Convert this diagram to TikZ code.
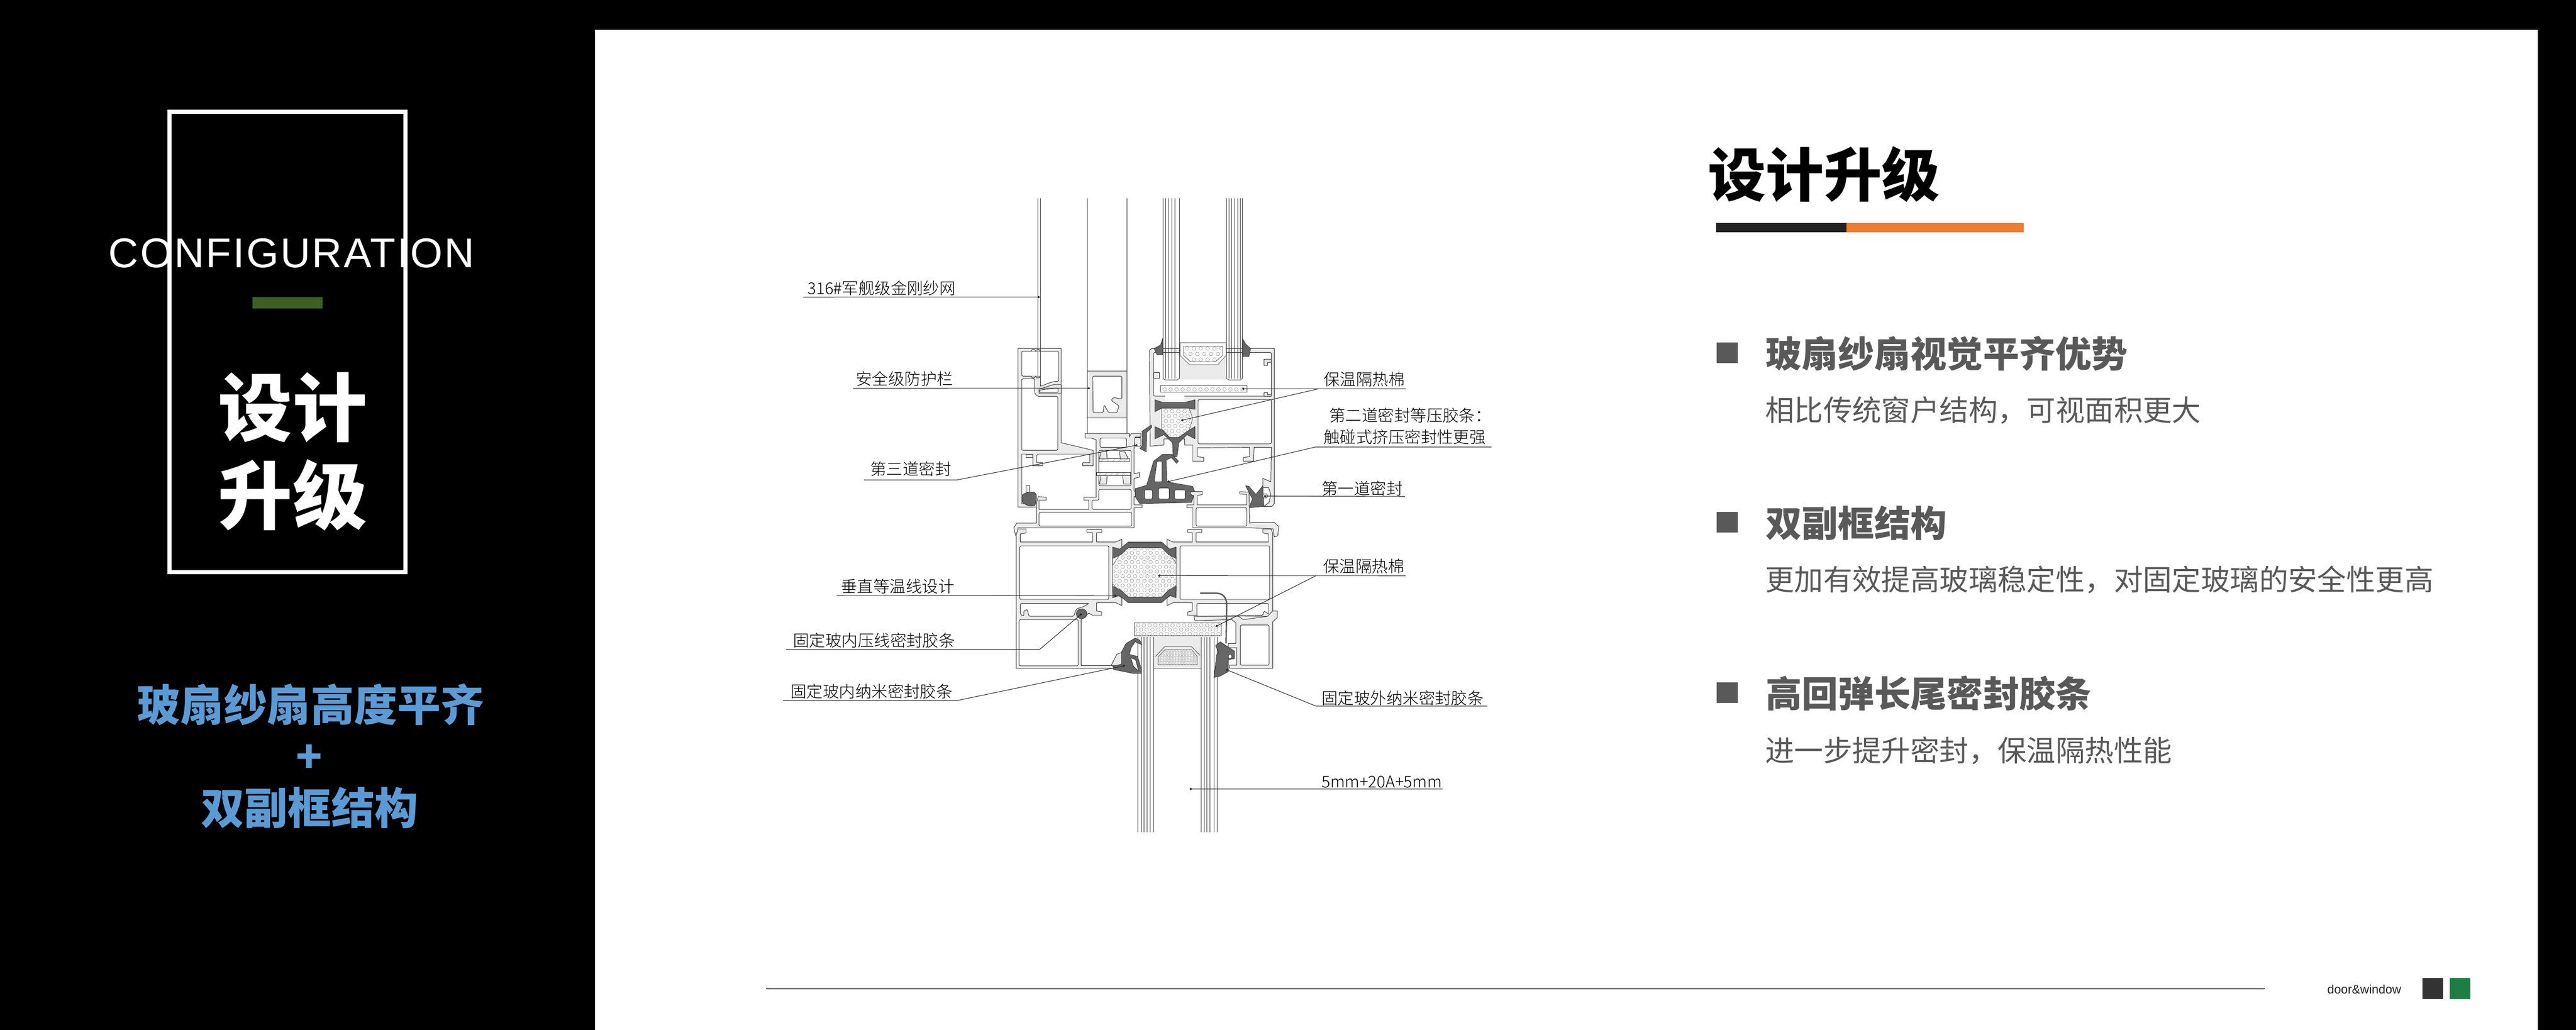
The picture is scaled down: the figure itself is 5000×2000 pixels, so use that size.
\documentclass[tikz,border=0pt]{standalone}
\usepackage{fontspec}
\usepackage{tikz}
\usetikzlibrary{arrows.meta}
\setmainfont{Liberation Sans}
\newfontfamily\cjkreg{Noto Sans CJK SC}
\newfontfamily\cjklight{Noto Sans CJK SC Light}
\newfontfamily\cjkblack{Noto Sans CJK SC Black}
\newcommand{\foamholes}[6]{% x0,x1,y0,y1,pitch,radius
  \pgfmathsetmacro{\xnext}{#1+#5}\pgfmathsetmacro{\ynext}{#3+#5*.8}
  \foreach \yy [count=\rowno] in {#3,\ynext,...,#4}{
    \pgfmathsetmacro{\xoff}{mod(\rowno,2)*#5/2}
    \foreach \xx in {#1,\xnext,...,#2}
      \draw[holeline] (\xx+\xoff,\yy) circle (#6);}}
\tikzset{
  alu/.style={draw=black!80,fill=black!8,line width=.55pt,line join=round},
  cavity/.style={draw=black!80,fill=white,line width=.55pt,rounded corners=1.5pt},
  gasket/.style={draw=black!80,fill=black!60,line width=.45pt,line join=round},
  foamfill/.style={draw=black!70,fill=black!2,line width=.4pt},
  holeline/.style={draw=black!50,line width=.25pt},
  pane/.style={draw=black!80,line width=.45pt},
  leader/.style={draw=black!85,line width=.6pt,-{Circle[length=2.5pt]}},
  lbl/.style={inner sep=0pt,anchor=west,text=black,font=\cjklight\fontsize{17.9}{20}\selectfont},
  headline/.style={inner sep=0pt,anchor=west,text=black!65,font=\cjkblack\fontsize{40}{46}\selectfont},
  subline/.style={inner sep=0pt,anchor=west,text=black!65,font=\cjkreg\fontsize{32.1}{38}\selectfont},
  bluetext/.style={inner sep=0pt,text=bluetitle,font=\cjkblack\fontsize{47.9}{56}\selectfont},
  bigtext/.style={inner sep=0pt,text=white,font=\cjkblack\fontsize{82}{96}\selectfont},
}
\definecolor{bluetitle}{HTML}{5B9BD5}
\definecolor{barorange}{HTML}{ED7D31}
\definecolor{bardark}{HTML}{222222}
\definecolor{bargreen}{HTML}{3F5F22}
\definecolor{tagdark}{HTML}{333333}
\definecolor{taggreen}{HTML}{1E7D45}
\definecolor{bulletgrey}{HTML}{595959}
\begin{document}
\begin{tikzpicture}[x=.02cm,y=-.02cm]
\useasboundingbox (0,0) rectangle (5000,2000);
\fill[black] (0,0) rectangle (5000,2000);
\fill[white] (1155,58) rectangle (4926,2000);

% left column
\draw[white,line width=4pt] (329,217) rectangle (787,1111);
\node (config) [inner sep=0pt,text=white,font=\addfontfeature{LetterSpace=4}\fontsize{46}{52}\selectfont] at (566,492) {CONFIGURATION};
\fill[bargreen] (490,577) rectangle (626,599);
\node (big1) [bigtext] at (568,791) {设计};
\node (big2) [bigtext] at (568,961) {升级};
\node (blue1) [bluetext] at (603,1368) {玻扇纱扇高度平齐};
\node (blue2) [bluetext] at (600,1473) {+};
\node (blue3) [bluetext] at (601,1568) {双副框结构};

% right column
\node (title) [inner sep=0pt,text=black,font=\cjkblack\fontsize{64}{72}\selectfont] at (3540,338) {设计升级};
\fill[bardark] (3331,433) rectangle (3584,451);
\fill[barorange] (3584,433) rectangle (3928,451);
\fill[bulletgrey] (3332,665) rectangle (3373,705);
\node (head1) [headline] at (3427,686) {玻扇纱扇视觉平齐优势};
\node (sub1) [subline] at (3426,797) {相比传统窗户结构，可视面积更大};
\fill[bulletgrey] (3332,994) rectangle (3373,1034);
\node (head2) [headline] at (3427,1016) {双副框结构};
\node (sub2) [subline] at (3426,1126) {更加有效提高玻璃稳定性，对固定玻璃的安全性更高};
\fill[bulletgrey] (3332,1325) rectangle (3373,1365);
\node (head3) [headline] at (3427,1346) {高回弹长尾密封胶条};
\node (sub3) [subline] at (3426,1458) {进一步提升密封，保温隔热性能};

% footer
\draw[black!75,line width=1.2pt] (1487,1920) -- (4396,1920);
\node (door) [inner sep=0pt,text=black!85,font=\fontsize{13.6}{16}\selectfont] at (4589,1921) {door\&window};
\fill[tagdark] (4702,1899) rectangle (4742,1940);
\fill[taggreen] (4755,1899) rectangle (4795,1940);

% upper half of the section
\begin{scope}[shift={(1900,380)},x=.00893cm,y=-.00893cm]
% outer frame
\draw[alu] (170,665)--(358,665)--(358,1075)--(497,1108)--(497,1175)--(452,1175)--(452,1162)--(482,1162)--(482,1125)--(255,1125)--(250,1135)--(250,1160)--(278,1162)--(278,1175)--(235,1175)--(235,1125)--(186,1125)--(186,1340)--(250,1340)--(250,1355)--(170,1355)--cycle;
\draw[cavity] (186,677)--(347,677)--(347,808)--(330,808)--(305,815)--(268,830)--(268,785)--(186,785)--cycle;
\draw[cavity] (186,797)--(243,797)--(243,860)--(255,873)--(343,873)--(343,1108)--(186,1108)--cycle;
\draw[alu] (262,842)--(325,822)--(358,822)--(358,860)--(262,860)--cycle;
\draw[cavity] (264,846)--(345,836)--(345,856)--(264,856)--cycle;
\foreach \bx in {228,248}{
  \draw[alu] (\bx,677) arc (180:360:9);
  \draw[alu] (\bx,785) arc (180:0:9);}
\draw[alu] (205,1260)--(220,1260)--(220,1290)--(205,1290)--cycle;
\draw[alu] (205,1125)--(233,1125)--(233,1140)--(205,1140)--cycle;
\draw[gasket,rounded corners=2pt] (188,1300)--(215,1290)--(245,1290)--(252,1310)--(245,1350)--(215,1350)--(188,1335)--cycle;
\draw[pane] (256,12)--(256,790) (268,12)--(268,830);

% insect sash
\draw[pane] (472,12)--(472,1035) (645,12)--(645,1035);
\draw[alu] (472,762)--(645,762)--(645,968)--(472,968)--cycle;
\draw[cavity] (495,785)--(622,785)--(622,885)--(585,878)--(575,890)--(610,915)--(600,945)--(565,945)--(545,910)--(540,945)--(497,945)--cycle;

% sliding sash foot
\draw[alu] (462,1035)--(655,1035)--(655,1050)--(662,1035)--(705,1035)--(705,1050)--(680,1050)--(675,1100)--(675,1210)--(698,1205)--(698,1225)--(675,1230)--(675,1285)--(698,1295)--(690,1305)--(675,1310)--(675,1345)--(710,1345)--(710,1358)--(675,1358)--(675,1445)--(170,1445)--(170,1480)--(160,1480)--(152,1445)--(165,1425)--(250,1425)--(250,1340)--(258,1310)--(292,1312)--(292,1325)--(262,1325)--(262,1365)--(478,1365)--(478,1325)--(457,1325)--(457,1312)--(510,1312)--(510,1062)--(490,1055)--(462,1055)--cycle;
\draw[cavity] (527,1055)--(642,1055)--(642,1095)--(527,1095)--cycle;
\draw[cavity] (522,1108)--(662,1108)--(662,1262)--(522,1262)--cycle;
\draw[alu] (524,1145)--(655,1145)--(655,1158)--(524,1158)--cycle;
\foreach \hx in {530,555,...,640} \draw[holeline] (\hx,1158)--(\hx+12,1146);
\draw[alu] (512,1205)--(660,1205)--(660,1218)--(512,1218)--cycle;
\foreach \hx in {520,545,...,640} \draw[holeline] (\hx,1218)--(\hx+12,1206);
\draw[alu] (530,1115)--(555,1112)--(558,1145)--(525,1145)--cycle;
\draw[alu] (612,1112)--(635,1115)--(650,1145)--(615,1145)--cycle;
\draw[alu] (530,1218)--(558,1218)--(555,1255)--(525,1255)--cycle;
\draw[alu] (625,1218)--(660,1218)--(660,1255)--(630,1255)--cycle;
\draw[cavity] (522,1278)--(662,1278)--(662,1365)--(492,1365)--(492,1325)--(522,1325)--cycle;
\draw[cavity] (262,1378)--(665,1378)--(665,1438)--(262,1438)--cycle;

% window sash
\draw[alu] (742,672)--(752,665)--(1285,665)--(1285,1340)--(1275,1352)--(1240,1352)--(1262,1335)--(1270,1300)--(1260,1270)--(1235,1270)--(1235,1230)--(1270,1245)--(1272,1095)--(1197,1095)--(1195,1155)--(1150,1155)--(1150,1140)--(1178,1135)--(1178,1095)--(950,1097)--(950,1135)--(978,1140)--(978,1155)--(930,1155)--(930,1085)--(895,1085)--(895,1058)--(805,1058)--(805,1085)--(745,1090)--cycle;
\draw[cavity] (760,682)--(1272,682)--(1272,872)--(760,872)--cycle;
\draw[cavity] (953,887)--(1272,887)--(1272,1080)--(953,1080)--cycle;
\draw[alu] (1240,712)--(1272,712)--(1272,725)--(1255,725)--(1255,738)--(1240,738)--cycle;
\draw[alu] (1240,858)--(1255,858)--(1255,866)--(1272,866)--(1272,872)--(1240,872)--cycle;
\draw[alu] (760,770)--(785,770)--(785,795)--(760,795)--cycle;
\fill[white] (808,860) rectangle (895,892);
% glass and spacer
\fill[black!8] (872,695) rectangle (1076,800);
\foreach \gx in {800,813,826,840,853,872,1076,1088,1100,1112,1125,1137,1146}
  \draw[pane] (\gx,12)--(\gx,795);
\draw[pane] (800,795)--(810,802)--(862,802)--(872,795) (1076,795)--(1088,802)--(1137,802)--(1146,795);
\draw[foamfill,fill=white] (875,640)--(1075,640)--(1075,695)--(1040,735)--(915,735)--(875,695)--cycle;
\begin{scope}
  \path[clip,preaction={foamfill}] (890,655)--(1060,655)--(1060,695)--(1030,722)--(920,722)--(890,695)--cycle;
  \foamholes{890}{1060}{665}{725}{30}{8}
\end{scope}
\begin{scope}
  \path[clip,preaction={foamfill}] (790,825) rectangle (1167,855);
  \foamholes{795}{1165}{843}{843}{26}{8}
\end{scope}
\draw[gasket] (800,620)--(800,692)--(775,692)--(762,665)--(790,650)--cycle;
\draw[gasket] (1146,620)--(1146,700)--(1175,700)--(1182,665)--(1160,645)--cycle;
% thermal break
\begin{scope}
  \path[clip,preaction={foamfill}] (795,925)--(915,925)--(930,970)--(915,1020)--(870,1052)--(830,1052)--(795,1020)--cycle;
  \foamholes{800}{920}{938}{1050}{27}{8}
\end{scope}
\draw[gasket] (766,888)--(800,900)--(895,900)--(940,888)--(940,930)--(915,925)--(795,925)--(766,940)--cycle;
\draw[gasket] (766,1005)--(800,1020)--(830,1052)--(870,1052)--(915,1020)--(940,1005)--(940,1058)--(905,1040)--(870,1075)--(862,1135)--(845,1135)--(842,1075)--(805,1040)--(766,1058)--cycle;
% sliding seals
\draw[gasket] (680,1275)--(730,1260)--(760,1155)--(800,1125)--(840,1125)--(868,1155)--(860,1165)--(838,1140)--(815,1150)--(818,1245)--(930,1265)--(940,1290)--(925,1335)--(700,1340)--(680,1310)--cycle;
\draw[cavity,rounded corners=1pt] (775,1155)--(797,1155)--(797,1245)--(762,1245)--cycle;
\draw[cavity] (720,1280)--(755,1280)--(755,1320)--(720,1320)--cycle;
\draw[cavity] (782,1272)--(828,1272)--(828,1320)--(782,1320)--cycle;
\draw[cavity] (850,1280)--(898,1280)--(898,1320)--(850,1320)--cycle;
\draw[gasket] (710,1025)--(750,998)--(752,1008)--(730,1030)--(728,1115)--(700,1100)--(712,1085)--cycle;
\draw[alu,rounded corners=1pt] (678,1052)--(705,1052)--(705,1090)--(678,1090)--cycle;
\draw[gasket] (1160,1262)--(1175,1265)--(1205,1300)--(1235,1262)--(1240,1352)--(1175,1358)--(1190,1320)--cycle;
\draw[cavity] (1235,1298)--(1255,1298)--(1255,1315)--(1235,1315)--cycle;
% lower sash rail
\draw[alu] (930,1445)--(930,1358)--(905,1358)--(905,1345)--(935,1345)--(935,1305)--(920,1300)--(920,1288)--(972,1288)--(972,1300)--(950,1305)--(950,1345)--(1165,1345)--(1165,1300)--(1135,1298)--(1135,1288)--(1175,1290)--(1178,1425)--(1190,1422)--(1285,1422)--(1305,1440)--(1300,1480)--(1285,1485)--(1280,1450)--(1180,1445)--cycle;
\draw[cavity] (945,1358)--(1165,1358)--(1165,1438)--(945,1438)--cycle;
% leader ends
\coordinate (tipMesh) at (265,441);
\coordinate (tipRail) at (483,838);
\coordinate (tipThird) at (690,1085);
\coordinate (tipFoamA) at (1145,840);
\coordinate (tipFoamB) at (880,978);
\coordinate (tipSecond) at (820,1245);
\coordinate (tipFirst) at (1240,1307);
\end{scope}

% lower half of the section
\begin{scope}[shift={(1900,980)},x=.00893cm,y=-.00842cm]
% fixed frame, left part
\draw[alu] (162,755)--(162,140)--(170,112)--(205,112)--(205,130)--(180,135)--(180,172)--(495,172)--(495,130)--(470,128)--(470,115)--(535,115)--(535,128)--(512,130)--(512,172)--(595,172)--(622,160)--(622,205)--(582,240)--(582,400)--(622,430)--(622,465)--(595,452)--(512,452)--(512,490)--(535,495)--(535,510)--(495,510)--(478,500)--(445,530)--(445,742)--(580,742)--(590,755)--cycle;
\draw[cavity] (178,190)--(565,190)--(565,437)--(178,437)--cycle;
\draw[cavity] (180,455)--(480,455)--(455,470)--(425,480)--(412,515)--(218,515)--(210,482)--(195,490)--(195,515)--(180,505)--cycle;
\draw[cavity] (175,530)--(432,530)--(432,743)--(175,743)--cycle;
\draw[gasket] (447,503) circle (23);
% fixed frame, right part
\draw[alu] (1278,515)--(1278,130)--(1270,112)--(1235,112)--(1235,130)--(1260,135)--(1260,172)--(945,172)--(945,130)--(970,128)--(970,115)--(908,115)--(908,128)--(928,130)--(928,172)--(845,172)--(818,160)--(818,205)--(858,240)--(858,400)--(818,430)--(818,465)--(845,452)--(928,452)--(928,490)--(908,495)--(908,510)--(1255,515)--cycle;
\draw[cavity] (875,190)--(1265,190)--(1265,437)--(875,437)--cycle;
\draw[cavity] (948,455)--(1260,455)--(1260,505)--(1240,490)--(1235,510)--(948,515)--cycle;
\draw[alu] (935,515)--(1130,515)--(1150,530)--(1255,515)--(1278,490)--(1298,490)--(1298,520)--(1278,540)--(1278,755)--(1090,755)--(1090,740)--(1122,740)--(1122,660)--(1085,660)--(1085,640)--(1118,640)--(1118,545)--(1100,530)--(940,535)--cycle;
\draw[cavity] (1137,555)--(1262,555)--(1262,740)--(1137,740)--cycle;
% central foam
\begin{scope}
  \path[clip,preaction={foamfill}] (650,195)--(800,195)--(835,235)--(858,270)--(858,370)--(830,405)--(800,430)--(650,430)--(610,400)--(582,365)--(582,280)--(610,235)--cycle;
  \foamholes{585}{858}{200}{430}{27}{8}
\end{scope}
\draw[gasket] (582,195)--(612,205)--(650,172)--(795,172)--(830,205)--(858,195)--(858,248)--(825,230)--(795,198)--(650,198)--(618,230)--(582,248)--cycle;
\draw[gasket] (582,429)--(612,419)--(650,452)--(795,452)--(830,419)--(858,429)--(858,376)--(825,394)--(795,426)--(650,426)--(618,394)--(582,376)--cycle;
% glass and spacer
\fill[black!8] (760,612)--(975,612)--(966,755)--(762,755)--cycle;
\foreach \gx in {692,706,718,732,745,760,966,980,992,1005,1022,1036}
  \draw[pane] (\gx,610)--(\gx,1510);
\draw[pane] (762,755)--(966,755);
\begin{scope}
  \path[clip,preaction={foamfill}] (676,545) rectangle (1054,605);
  \foamholes{680}{1054}{556}{605}{25}{8}
\end{scope}
\draw[pane] (768,700)--(808,655)--(925,655)--(962,695);
\begin{scope}
  \path[clip,preaction={foamfill}] (780,700)--(810,668)--(925,668)--(950,700)--(950,738)--(780,738)--cycle;
  \foamholes{780}{950}{675}{738}{13}{4.5}
\end{scope}
% glazing seals
\draw[alu] (575,742)--(600,690)--(625,680)--(625,742)--cycle;
\draw[gasket] (585,745)--(620,735)--(620,680)--(640,640)--(680,615)--(700,625)--(710,645)--(695,640)--(680,632)--(662,660)--(655,690)--(690,700)--(708,760)--(708,778)--(670,778)--(585,760)--cycle;
\draw[cavity,rounded corners=1pt] (660,705)--(682,715)--(695,768)--(672,745)--cycle;
\draw[gasket] (1022,797)--(1035,690)--(1042,680)--(1030,650)--(1050,632)--(1075,650)--(1112,675)--(1112,710)--(1085,715)--(1085,770)--(1050,790)--cycle;
\draw[cavity] (1085,690)--(1100,690)--(1100,710)--(1085,710)--cycle;
\draw[black!65,line width=1.6pt] (962,408)--(1030,408) .. controls (1065,408) and (1078,430) .. (1078,465)--(1075,640);
% leader ends
\coordinate (tipIso) at (598,420);
\coordinate (tipBead) at (447,503);
\coordinate (tipInner) at (635,742);
\coordinate (tipOuter) at (1075,760);
\coordinate (tipFoamC) at (780,327);
\coordinate (tipFoamD) at (1030,562);
\coordinate (tipGlass) at (917,1311);
\end{scope}

% labels
\node (lblMesh) [lbl] at (1567,559) {316\#军舰级金刚纱网};
\node (lblRail) [lbl] at (1661,735) {安全级防护栏};
\node (lblThird) [lbl] at (1689,910) {第三道密封};
\node (lblIso) [lbl] at (1632,1139) {垂直等温线设计};
\node (lblBead) [lbl] at (1539,1244) {固定玻内压线密封胶条};
\node (lblInner) [lbl] at (1534,1343) {固定玻内纳米密封胶条};
\node (lblFoamA) [lbl] at (2569,737) {保温隔热棉};
\node (lblSecondA) [lbl] at (2580,807) {第二道密封等压胶条：};
\node (lblSecondB) [lbl] at (2569,849) {触碰式挤压密封性更强};
\node (lblFirst) [lbl] at (2565,948) {第一道密封};
\node (lblFoamB) [lbl] at (2568,1100) {保温隔热棉};
\node (lblOuter) [lbl] at (2565,1356) {固定玻外纳米密封胶条};
\node (lblGlass) [lbl] at (2565,1518) {5mm+20A+5mm};

% leader lines
\coordinate (lineMesh) at (1559,577);
\coordinate (lineRail) at (1656,754);
\coordinate (lineThirdA) at (1677,932);
\coordinate (lineThirdB) at (1857,932);
\coordinate (lineIso) at (1624,1156);
\coordinate (lineBeadA) at (1526,1261);
\coordinate (lineBeadB) at (2018,1261);
\coordinate (lineInnerA) at (1520,1360);
\coordinate (lineInnerB) at (1859,1360);
\coordinate (lineFoamA) at (2729,755);
\coordinate (lineFoamB) at (2559,755);
\coordinate (lineSecondA) at (2895,868);
\coordinate (lineSecondB) at (2553,868);
\coordinate (lineFirst) at (2727,964);
\coordinate (lineFoamC) at (2728,1118);
\coordinate (lineFoamD) at (2554,1118);
\coordinate (lineOuterA) at (2887,1371);
\coordinate (lineOuterB) at (2554,1371);
\coordinate (lineGlass) at (2800,1532);
\draw[leader] (lineMesh) -- (tipMesh);
\draw[leader] (lineRail) -- (tipRail);
\draw[leader] (lineThirdA) -- (lineThirdB) -- (tipThird);
\draw[leader] (lineIso) -- (tipIso);
\draw[leader] (lineBeadA) -- (lineBeadB) -- (tipBead);
\draw[leader] (lineInnerA) -- (lineInnerB) -- (tipInner);
\draw[leader] (lineFoamA) -- (tipFoamA);
\draw[leader] (lineFoamB) -- (tipFoamB);
\draw[leader] (lineSecondA) -- (lineSecondB) -- (tipSecond);
\draw[leader] (lineFirst) -- (tipFirst);
\draw[leader] (lineFoamC) -- (tipFoamC);
\draw[leader] (lineFoamD) -- (tipFoamD);
\draw[leader] (lineOuterA) -- (lineOuterB) -- (tipOuter);
\draw[leader] (lineGlass) -- (tipGlass);
\end{tikzpicture}
\end{document}
